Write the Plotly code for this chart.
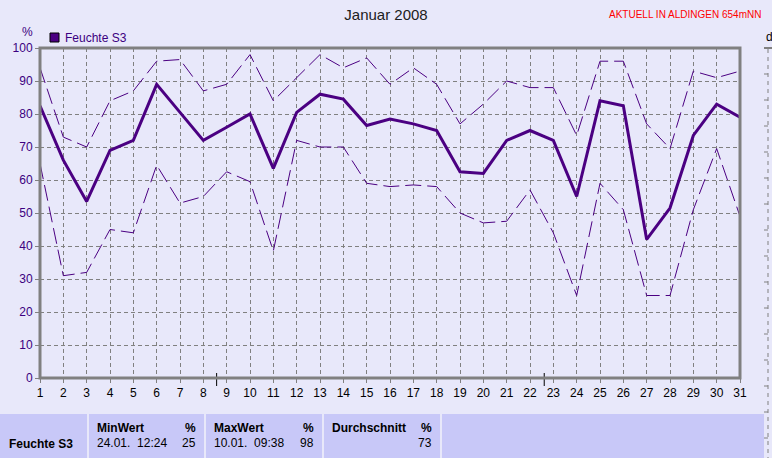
import plotly.graph_objects as go

days = list(range(1, 32))
avg = [82.5, 66, 53.5, 69, 72, 89, 80.5, 72, 76, 80, 63.5, 80.5, 86, 84.5, 76.5, 78.5,
       77, 75, 62.5, 62, 72, 75, 72, 55, 84, 82.5, 42, 51.5, 73.5, 83, 79]
maxv = [94, 73, 70, 84, 87, 96, 96.5, 87, 89, 98, 84, 91, 98, 94, 97, 89,
        94, 89, 77, 83, 90, 88, 88, 73.5, 96, 96, 77, 69.5, 93, 91, 93]
minv = [65, 31, 32, 45, 44, 64.5, 53, 55, 62.5, 59.5, 38.5, 72, 70, 70, 59, 58,
        58.5, 58, 50, 47, 47.5, 57, 44, 25, 59, 51, 25, 25, 51, 69.5, 49]
y_ticks = [0, 10, 20, 30, 40, 50, 60, 70, 80, 90, 100]
moon_days = [8.57, 22.61]
moon_colors = ["#000000", "#C0C0C0"]

series_name = "Feuchte S3"
title = "Januar 2008"
station = "AKTUELL IN ALDINGEN 654mNN"
table_headers = ["MinWert", "MaxWert", "Durchschnitt"]
table_times = ["24.01.  12:24", "10.01.  09:38", ""]
table_values = ["25", "98", "73"]

W, H = 772, 458
L, R, T, B = 40, 740, 48, 378
BG = "#E8E8FA"
CELL = "#C8C8F8"
LINE = "#4B0082"
PURPLE = "#3C0080"
FONT = "Liberation Sans"


def px(xp):
    return (xp - L) / (R - L)


def py(yp):
    return (B - yp) / (B - T)


fig = go.Figure()
fig.add_trace(go.Scatter(x=days, y=maxv, mode="lines",
                         line=dict(color=LINE, width=1, dash="16px,6px"),
                         showlegend=False, hoverinfo="skip"))
fig.add_trace(go.Scatter(x=days, y=minv, mode="lines",
                         line=dict(color=LINE, width=1, dash="16px,6px"),
                         showlegend=False, hoverinfo="skip"))
fig.add_trace(go.Scatter(x=days, y=avg, mode="lines",
                         line=dict(color=LINE, width=3),
                         showlegend=False, name=series_name))
# moon markers
fig.add_trace(go.Scatter(x=moon_days, y=[-7.9, -7.9], mode="markers",
                         marker=dict(size=10, color=moon_colors,
                                     line=dict(color="#000000", width=1)),
                         cliponaxis=False, showlegend=False, hoverinfo="skip"))

shapes = []
annotations = []

# moon tick lines
for d in moon_days:
    shapes.append(dict(type="line", xref="x", yref="paper", x0=d, x1=d,
                       y0=py(373), y1=py(386), line=dict(color="#000000", width=1)))

# frame
shapes.append(dict(type="rect", xref="paper", yref="paper", x0=0, x1=1, y0=0, y1=1,
                   line=dict(color="#808080", width=3), layer="above"))

# table cells
cells = [(0, 87), (89, 204), (206, 322), (324, 440), (442, 764)]
for x0, x1 in cells:
    shapes.append(dict(type="rect", xref="paper", yref="paper",
                       x0=px(x0), x1=px(x1), y0=py(414), y1=py(460),
                       line=dict(width=0), fillcolor=CELL, layer="below"))

# right side panel hints
shapes.append(dict(type="line", xref="paper", yref="paper", x0=px(764), x1=px(772),
                   y0=py(48), y1=py(48), line=dict(color="#808080", width=2)))
shapes.append(dict(type="line", xref="paper", yref="paper", x0=px(768), x1=px(768),
                   y0=py(49), y1=py(458), line=dict(color="#808080", width=1, dash="4px,4px")))
for yy in range(74, 458, 26):
    shapes.append(dict(type="line", xref="paper", yref="paper", x0=px(764), x1=px(768),
                       y0=py(yy), y1=py(yy), line=dict(color="#808080", width=1)))

# legend
shapes.append(dict(type="rect", xref="paper", yref="paper", x0=px(50), x1=px(59),
                   y0=py(42), y1=py(33), fillcolor=LINE,
                   line=dict(color="#000000", width=1)))
annotations.append(dict(x=px(63), y=py(38), xref="paper", yref="paper", text=series_name,
                        showarrow=False, xanchor="left", yanchor="middle",
                        font=dict(family=FONT, size=12, color=PURPLE)))
annotations.append(dict(x=px(27), y=py(32), xref="paper", yref="paper", text="%",
                        showarrow=False, xanchor="center", yanchor="middle",
                        font=dict(family=FONT, size=12, color=PURPLE)))
annotations.append(dict(x=px(763), y=py(15), xref="paper", yref="paper", text=station,
                        showarrow=False, xanchor="right", yanchor="middle",
                        font=dict(family=FONT, size=10, color="#FF0000")))
annotations.append(dict(x=px(764), y=py(37), xref="paper", yref="paper", text="d",
                        showarrow=False, xanchor="left", yanchor="middle",
                        font=dict(family=FONT, size=12, color="#000000")))

# table text
annotations.append(dict(x=px(7), y=py(444), xref="paper", yref="paper", text="<b>" + series_name + "</b>",
                        showarrow=False, xanchor="left", yanchor="middle",
                        font=dict(family=FONT, size=12, color="#000000")))
for i, (x0, x1) in enumerate(cells[1:4]):
    annotations.append(dict(x=px(x0 + 6), y=py(428), xref="paper", yref="paper",
                            text="<b>" + table_headers[i] + "</b>", showarrow=False,
                            xanchor="left", yanchor="middle",
                            font=dict(family=FONT, size=12, color="#000000")))
    annotations.append(dict(x=px(x1 - 6), y=py(428), xref="paper", yref="paper",
                            text="<b>%</b>", showarrow=False,
                            xanchor="right", yanchor="middle",
                            font=dict(family=FONT, size=12, color="#000000")))
    if table_times[i]:
        annotations.append(dict(x=px(x0 + 6), y=py(443), xref="paper", yref="paper",
                                text=table_times[i], showarrow=False,
                                xanchor="left", yanchor="middle",
                                font=dict(family=FONT, size=12, color="#000000")))
    annotations.append(dict(x=px(x1 - 6), y=py(443), xref="paper", yref="paper",
                            text=table_values[i], showarrow=False,
                            xanchor="right", yanchor="middle",
                            font=dict(family=FONT, size=12, color="#000000")))

fig.update_layout(
    width=W, height=H,
    margin=dict(l=L, r=W - R, t=T, b=H - B),
    paper_bgcolor=BG, plot_bgcolor=BG,
    title=dict(text=title, x=0.5, xanchor="center", y=1 - 15 / H, yanchor="middle",
               font=dict(family=FONT, size=15, color="#202020")),
    shapes=shapes, annotations=annotations,
    showlegend=False,
    xaxis=dict(range=[1, 31], tickmode="array", tickvals=days, ticktext=[str(d) for d in days],
               showgrid=True, gridcolor="#808080", griddash="4px,3px", gridwidth=1,
               zeroline=False, showline=False, ticks="outside", ticklen=4,
               tickcolor="#808080", tickfont=dict(family=FONT, size=12, color="#000000")),
    yaxis=dict(range=[0, 100], tickmode="array", tickvals=y_ticks,
               showgrid=True, gridcolor="#808080", griddash="4px,3px", gridwidth=1,
               zeroline=False, showline=False, ticks="outside", ticklen=4,
               tickcolor="#808080", tickfont=dict(family=FONT, size=12, color=PURPLE)),
)

fig.write_html("out.html", config={"displayModeBar": False},
               post_script="document.body.style.margin='0';document.body.style.overflow='hidden';")
